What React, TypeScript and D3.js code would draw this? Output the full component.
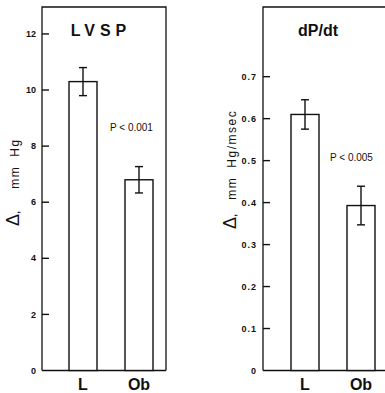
import React from "react";
import * as d3 from "d3";

const groups = ["L", "Ob"];
const lvspMean = [10.3, 6.8];
const lvspErr = [0.5, 0.47];
const lvspTicks = [0, 2, 4, 6, 8, 10, 12];
const dpdtMean = [0.61, 0.393];
const dpdtErr = [0.035, 0.046];
const dpdtTicks = [0, 0.1, 0.2, 0.3, 0.4, 0.5, 0.6, 0.7];

const FONT = "'Liberation Sans', Arial, sans-serif";

type PanelProps = {
  left: number;
  right: number;
  bandStart: number;
  yMax: number;
  means: number[];
  errs: number[];
  ticks: number[];
  fmt: (v: number) => string;
  tickSpacing: number;
  title: string;
  titleX: number;
  titleSpacing: number;
  titleWeight: string;
  pText: string;
  pX: number;
  pY: number;
  unitGap: number;
  unit: string;
  yLabelX: number;
  yLabelY: number;
  closed: boolean;
};

const Panel = (p: PanelProps) => {
  const top = 7;
  const bottom = 370.5;
  const y = d3.scaleLinear().domain([0, p.yMax]).range([bottom, top]);
  const x = d3
    .scaleBand()
    .domain(groups)
    .range([p.bandStart, p.bandStart + 84])
    .paddingInner(0.5)
    .paddingOuter(0);
  const bw = x.bandwidth();

  return (
    <g>
      {/* frame */}
      <path
        d={`M${p.left},${bottom} V${top} H${p.right}${p.closed ? ` V${bottom}` : ""}`}
        fill="none"
        stroke="#111"
        strokeWidth={1.3}
      />
      <line x1={p.left} x2={p.right} y1={bottom} y2={bottom} stroke="#111" strokeWidth={1.6} />

      {/* ticks */}
      {p.ticks.map((t) => (
        <g key={t}>
          {t > 0 && (
            <line x1={p.left} x2={p.left + 7} y1={y(t)} y2={y(t)} stroke="#111" strokeWidth={1.4} />
          )}
          <text
            x={p.left - 6}
            y={y(t)}
            dy="0.35em"
            textAnchor="end"
            fontSize={9}
            fontWeight="bold"
            letterSpacing={p.tickSpacing}
            fontFamily={FONT}
            fill="#111"
          >
            {p.fmt(t)}
          </text>
        </g>
      ))}

      {/* bars */}
      {groups.map((g, i) => {
        const bx = x(g) as number;
        const cx = bx + bw / 2;
        const hi = y(p.means[i] + p.errs[i]);
        const lo = y(p.means[i] - p.errs[i]);
        return (
          <g key={g}>
            <rect
              x={bx}
              y={y(p.means[i])}
              width={bw}
              height={bottom - y(p.means[i])}
              fill="white"
              stroke="#111"
              strokeWidth={1.4}
            />
            <line x1={cx} x2={cx} y1={hi} y2={lo} stroke="#111" strokeWidth={1.4} />
            <line x1={cx - 4} x2={cx + 4} y1={hi} y2={hi} stroke="#111" strokeWidth={1.4} />
            <line x1={cx - 4} x2={cx + 4} y1={lo} y2={lo} stroke="#111" strokeWidth={1.4} />
            <text
              x={cx}
              y={390}
              textAnchor="middle"
              fontSize={16}
              fontWeight="bold"
              fontFamily={FONT}
              fill="#111"
            >
              {g}
            </text>
          </g>
        );
      })}

      {/* title */}
      <text
        x={p.titleX}
        y={36}
        textAnchor="middle"
        fontSize={16}
        fontWeight={p.titleWeight}
        letterSpacing={p.titleSpacing}
        fontFamily={FONT}
        fill="#111"
      >
        {p.title}
      </text>

      {/* p value */}
      <text x={p.pX} y={p.pY} fontSize={10} fontFamily={FONT} fill="#111">
        {p.pText}
      </text>

      {/* y label */}
      <text
        transform={`translate(${p.yLabelX},${p.yLabelY}) rotate(-90)`}
        fontSize={12}
        fontFamily={FONT}
        fill="#111"
      >
        <tspan fontSize={18}>Δ</tspan>
        <tspan>,</tspan>
        <tspan dx={p.unitGap} letterSpacing={1.5}>mm</tspan>
        <tspan dx={9} letterSpacing={1.5}>{p.unit}</tspan>
      </text>
    </g>
  );
};

const App = () => (
  <svg
    width={385}
    height={393}
    style={{ position: "absolute", left: 0, top: 0, background: "white" }}
  >
    <Panel
      left={42}
      right={166}
      bandStart={69}
      yMax={12.96}
      means={lvspMean}
      errs={lvspErr}
      ticks={lvspTicks}
      fmt={(v) => String(v)}
      tickSpacing={0}
      title="LVSP"
      titleX={101}
      titleSpacing={5}
      titleWeight="bold"
      pText="P < 0.001"
      pX={110}
      pY={131}
      unitGap={22}
      unit="Hg"
      yLabelX={19}
      yLabelY={226}
      closed={true}
    />
    <Panel
      left={263}
      right={386}
      bandStart={291}
      yMax={0.866}
      means={dpdtMean}
      errs={dpdtErr}
      ticks={dpdtTicks}
      fmt={(v) => (v === 0 ? "0" : v.toFixed(1))}
      tickSpacing={1}
      title="dP/dt"
      titleX={318}
      titleSpacing={0}
      titleWeight="600"
      pText="P < 0.005"
      pX={330}
      pY={161}
      unitGap={14}
      unit="Hg/msec"
      yLabelX={236}
      yLabelY={229}
      closed={false}
    />
  </svg>
);

export default App;
